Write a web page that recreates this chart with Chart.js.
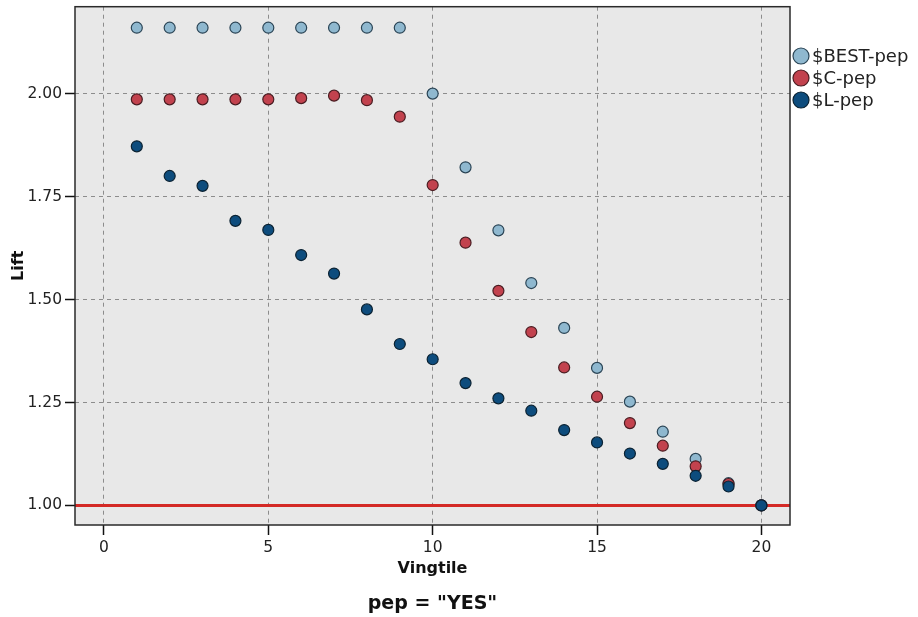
<!DOCTYPE html>
<html>
<head>
<meta charset="utf-8">
<script src="https://cdn.jsdelivr.net/npm/chart.js@4/dist/chart.umd.min.js"></script>
<style>
  html, body { margin: 0; padding: 0; background: #ffffff; }
  #wrap { width: 918px; height: 617px; }
</style>
</head>
<body>
<div id="wrap"><canvas id="lift"></canvas></div>
<script>
// values
const vingtiles = [1, 2, 3, 4, 5, 6, 7, 8, 9, 10, 11, 12, 13, 14, 15, 16, 17, 18, 19, 20];
const bestPep = [2.16, 2.16, 2.16, 2.16, 2.16, 2.16, 2.16, 2.16, 2.16, 2.00, 1.821, 1.668, 1.540, 1.431, 1.334, 1.252, 1.179, 1.113, 1.054, 1.00];
const cPep = [1.986, 1.986, 1.986, 1.986, 1.986, 1.989, 1.995, 1.984, 1.944, 1.778, 1.638, 1.521, 1.421, 1.335, 1.264, 1.200, 1.145, 1.095, 1.052, 1.00];
const lPep = [1.872, 1.800, 1.776, 1.691, 1.669, 1.608, 1.563, 1.476, 1.392, 1.355, 1.297, 1.260, 1.230, 1.183, 1.153, 1.126, 1.101, 1.072, 1.046, 1.00];
const seriesNames = ['$BEST-pep', '$C-pep', '$L-pep'];
const xTicks = [0, 5, 10, 15, 20];
const yTicks = [1.00, 1.25, 1.50, 1.75, 2.00];
const baseline = 1.0;
const panelLabel = 'pep = "YES"';

const fillColors = ['#8fb8cf', '#c2424e', '#0d4c7d'];
const edgeColors = ['#2b4556', '#4a1d22', '#0b2232'];
const FONT = 'DejaVu Sans';

function toPoints(vals) {
  return vingtiles.map((v, i) => ({ x: v, y: vals[i] }));
}

const plotBackground = {
  id: 'plotBackground',
  beforeDraw(chart) {
    const { ctx, chartArea: a } = chart;
    ctx.save();
    ctx.fillStyle = '#e8e8e8';
    ctx.fillRect(a.left, a.top, a.right - a.left, a.bottom - a.top);
    ctx.restore();
  },
  beforeDatasetsDraw(chart) {
    // red reference line at lift = 1
    const { ctx, chartArea: a } = chart;
    const y = chart.scales.y.getPixelForValue(baseline);
    ctx.save();
    ctx.strokeStyle = '#d42a26';
    ctx.lineWidth = 3;
    ctx.beginPath();
    ctx.moveTo(a.left, y);
    ctx.lineTo(a.right, y);
    ctx.stroke();
    ctx.restore();
  },
  afterDraw(chart) {
    const { ctx, chartArea: a } = chart;
    ctx.save();
    ctx.strokeStyle = '#2a2a2a';
    ctx.lineWidth = 1.5;
    ctx.strokeRect(a.left, a.top, a.right - a.left, a.bottom - a.top);
    // legend
    ctx.font = '18px "' + FONT + '"';
    ctx.textBaseline = 'middle';
    seriesNames.forEach((name, i) => {
      const y = 56 + i * 22;
      ctx.beginPath();
      ctx.arc(a.right + 11, y, 8, 0, Math.PI * 2);
      ctx.fillStyle = fillColors[i];
      ctx.fill();
      ctx.lineWidth = 1.2;
      ctx.strokeStyle = edgeColors[i];
      ctx.stroke();
      ctx.fillStyle = '#222222';
      ctx.fillText(name, a.right + 22, y + 1);
    });
    // panel label under the axis title
    ctx.font = 'bold 19px "' + FONT + '"';
    ctx.textAlign = 'center';
    ctx.fillStyle = '#111111';
    ctx.fillText(panelLabel, (a.left + a.right) / 2, 604);
    ctx.restore();
  }
};

const series = [bestPep, cPep, lPep];
new Chart(document.getElementById('lift'), {
  type: 'scatter',
  data: {
    datasets: series.map((vals, i) => ({
      label: seriesNames[i],
      data: toPoints(vals),
      backgroundColor: fillColors[i],
      borderColor: edgeColors[i],
      borderWidth: 1.2,
      pointRadius: 5.5,
      order: 3 - i
    }))
  },
  options: {
    responsive: true,
    maintainAspectRatio: false,
    animation: false,
    layout: { padding: { left: 0, top: 6, right: 128, bottom: 0 } },
    plugins: {
      legend: { display: false },
      tooltip: { enabled: false }
    },
    scales: {
      x: {
        type: 'linear',
        min: -0.88,
        max: 20.87,
        afterFit(scale) { scale.height = 92; },
        afterBuildTicks(scale) { scale.ticks = xTicks.map(v => ({ value: v })); },
        ticks: {
          padding: 4,
          color: '#222222',
          font: { family: FONT, size: 15.5 },
          callback: v => String(v)
        },
        grid: {
          color: '#8c8c8c',
          lineWidth: 1,
          tickLength: 10,
          tickColor: '#111111',
          tickWidth: 1.5,
          tickBorderDash: []
        },
        border: { display: false, dash: [4, 4] },
        title: {
          display: true,
          text: 'Vingtile',
          color: '#111111',
          font: { family: FONT, size: 16, weight: 'bold' },
          padding: { top: 0, bottom: 38.4 }
        }
      },
      y: {
        type: 'linear',
        min: 0.9525,
        max: 2.211,
        afterFit(scale) {
          scale.width = 75;
          scale.paddingTop = 0;
          scale.paddingBottom = 0;
        },
        afterBuildTicks(scale) { scale.ticks = yTicks.map(v => ({ value: v })); },
        ticks: {
          padding: 3,
          color: '#222222',
          font: { family: FONT, size: 15.5 },
          callback: v => Number(v).toFixed(2)
        },
        grid: {
          color: '#8c8c8c',
          lineWidth: 1,
          tickLength: 10,
          tickColor: '#111111',
          tickWidth: 1.5,
          tickBorderDash: []
        },
        border: { display: false, dash: [4, 4] },
        title: {
          display: true,
          text: 'Lift',
          color: '#111111',
          font: { family: FONT, size: 16, weight: 'bold' },
          padding: { top: 9.4, bottom: 0 }
        }
      }
    }
  },
  plugins: [plotBackground]
});
</script>
</body>
</html>
